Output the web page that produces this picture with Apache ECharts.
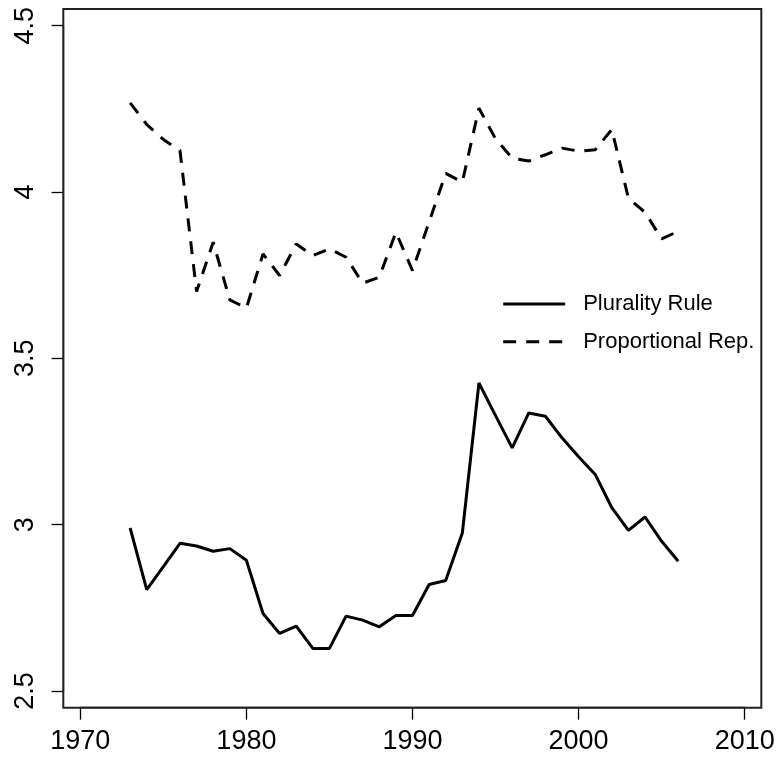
<!DOCTYPE html>
<html>
<head>
<meta charset="utf-8">
<script src="https://cdn.jsdelivr.net/npm/echarts@6/dist/echarts.min.js"></script>
<style>html,body{margin:0;padding:0;background:#fff;}#c{width:780px;height:762px;}</style>
</head>
<body>
<div id="c"></div>
<script>
const years = [1973,1974,1975,1976,1977,1978,1979,1980,1981,1982,1983,1984,1985,1986,1987,1988,1989,1990,1991,1992,1993,1994,1995,1996,1997,1998,1999,2000,2001,2002,2003,2004,2005,2006];
const plurality = [2.990,2.805,2.874,2.944,2.936,2.920,2.928,2.893,2.733,2.673,2.695,2.628,2.628,2.725,2.713,2.693,2.727,2.727,2.820,2.832,2.975,3.426,3.328,3.231,3.336,3.326,3.261,3.204,3.151,3.051,2.983,3.023,2.950,2.890];
const proportional = [4.268,4.203,4.158,4.125,3.701,3.849,3.676,3.651,3.814,3.749,3.844,3.809,3.829,3.804,3.726,3.744,3.879,3.764,3.910,4.056,4.030,4.252,4.160,4.102,4.093,4.112,4.132,4.123,4.127,4.188,3.981,3.939,3.859,3.882];
const seriesNames = ['Plurality Rule','Proportional Rep.'];
const xTickLabels = ['1970','1980','1990','2000','2010'];
const yTickLabels = ['2.5','3','3.5','4','4.5'];

const FONT = '"Liberation Sans", Arial, Helvetica, sans-serif';
const chart = echarts.init(document.getElementById('c'), null, {renderer:'canvas'});
const pair = (ys) => years.map((y,i)=>[y, ys[i]]);
chart.setOption({
  animation: false,
  backgroundColor: '#ffffff',
  grid: {left: 80.3, right: 35.3, top: 25.7, bottom: 71, containLabel: false},
  xAxis: {
    type: 'value', min: 1970, max: 2010, interval: 10, offset: 16.7,
    axisLine: {show: true, lineStyle: {color: '#000', width: 1.3}},
    axisTick: {show: true, length: 12, inside: false, lineStyle: {color: '#000', width: 1.3}},
    splitLine: {show: false},
    axisLabel: {margin: 20.5, fontSize: 27, color: '#000', fontFamily: FONT,
      formatter: (v) => xTickLabels[Math.round((v-1970)/10)]}
  },
  yAxis: {
    type: 'value', min: 2.5, max: 4.5, interval: 0.5, offset: 16.7,
    axisLine: {show: true, lineStyle: {color: '#000', width: 1.3}},
    axisTick: {show: true, length: 12, inside: false, lineStyle: {color: '#000', width: 1.3}},
    splitLine: {show: false},
    axisLabel: {margin: 24.8, fontSize: 27, color: '#000', fontFamily: FONT, rotate: 90,
      formatter: (v) => yTickLabels[Math.round((v-2.5)/0.5)]}
  },
  legend: {
    orient: 'vertical', left: 501.7, top: 292, padding: 0,
    itemWidth: 62, itemHeight: 24, itemGap: 13.7,
    itemStyle: {opacity: 0},
    lineStyle: {width: 3, color: '#000'},
    textStyle: {fontSize: 22, color: '#000', fontFamily: FONT, lineHeight: 24, padding: [0,0,0,13]},
    data: seriesNames
  },
  graphic: [{
    type: 'rect', silent: true, z: 10,
    shape: {x: 63.3, y: 9, width: 698, height: 698.7},
    style: {fill: 'none', stroke: '#222', lineWidth: 2}
  }],
  series: [
    {name: seriesNames[0], type: 'line', data: pair(plurality), symbol: 'none', showSymbol: false,
     lineStyle: {color: '#000', width: 3, type: 'solid'}, itemStyle: {color: '#000'}},
    {name: seriesNames[1], type: 'line', data: pair(proportional), symbol: 'none', showSymbol: false,
     lineStyle: {color: '#000', width: 3, type: [13,10]}, itemStyle: {color: '#000'}}
  ]
});
</script>
</body>
</html>
